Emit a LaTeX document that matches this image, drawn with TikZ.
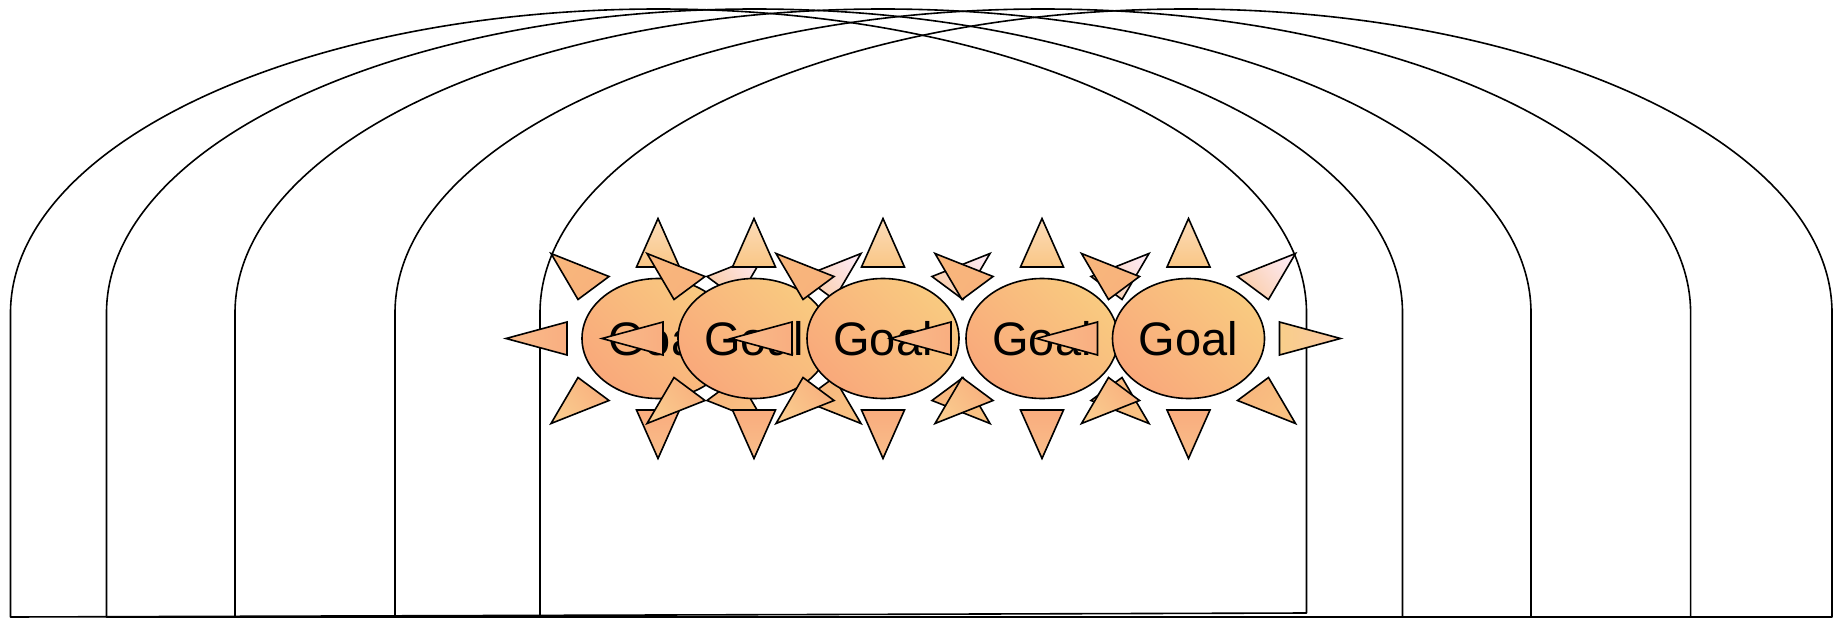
\documentclass[tikz,border=0pt]{standalone}
\usepackage{fontspec}
\setmainfont{Liberation Sans}
\usetikzlibrary{shapes.geometric}

% fill colours of the goal bursts
\definecolor{goalhi}{HTML}{F9CA80}
\definecolor{goallo}{HTML}{F9A97B}
\definecolor{rayNtip}{HTML}{FCDCBA}
\definecolor{rayNbase}{HTML}{F9C685}
\definecolor{rayNEtip}{HTML}{FDE8F0}
\definecolor{rayNEbase}{HTML}{FACDA8}
\definecolor{rayEtip}{HTML}{FAC7A2}
\definecolor{rayEbase}{HTML}{F9CE8A}
\definecolor{raySEtip}{HTML}{F9C283}
\definecolor{raySEbase}{HTML}{F8B67E}
\definecolor{raySTip}{HTML}{F9BE8A}
\definecolor{raySbase}{HTML}{F9AC7E}
\definecolor{raySWtip}{HTML}{FACB8E}
\definecolor{raySWbase}{HTML}{F8B07E}
\definecolor{rayWtip}{HTML}{F9BC8C}
\definecolor{rayWbase}{HTML}{F9AE80}
\definecolor{rayNWtip}{HTML}{F8B67C}
\definecolor{rayNWbase}{HTML}{F8B27C}

\tikzset{
  x=1pt, y=-1pt,
  outline/.style={draw=black, line width=1.6pt, line join=miter},
  arch/.style={outline, line join=round},
  goal/.style={outline, ellipse, minimum width=152pt, minimum height=120pt,
    inner sep=0pt, top color=goalhi, bottom color=goallo, shading angle=-45,
    font=\fontsize{47pt}{56pt}\selectfont},
  ray/.style n args={3}{outline, top color=#1, bottom color=#2, shading angle=#3},
  sun/.pic={
    % eight rays around the goal ellipse
    \path[ray={rayNtip}{rayNbase}{0}]      (-21.5,-71.5) -- (21.5,-71.5) -- (0,-120) -- cycle;
    \path[ray={rayNEtip}{rayNEbase}{-52}]  (49,-62) -- (80,-39) -- (107,-85) -- cycle;
    \path[ray={rayEtip}{rayEbase}{-90}]    (91,-16.5) -- (91,16.5) -- (152,0) -- cycle;
    \path[ray={raySEtip}{raySEbase}{-128}] (49,62) -- (80,39) -- (107,85) -- cycle;
    \path[ray={raySTip}{raySbase}{180}]    (-21.5,71.5) -- (21.5,71.5) -- (0,120) -- cycle;
    \path[ray={raySWtip}{raySWbase}{128}]  (-49,62) -- (-80,39) -- (-107,85) -- cycle;
    \path[ray={rayWtip}{rayWbase}{90}]     (-91,-16.5) -- (-91,16.5) -- (-152,0) -- cycle;
    \path[ray={rayNWtip}{rayNWbase}{52}]   (-49,-62) -- (-80,-39) -- (-107,-85) -- cycle;
    \node[goal] (-g) at (0,0) {Goal};
  },
}

\begin{document}
\begin{tikzpicture}
\useasboundingbox (0,0) rectangle (1833,618);

% five open arches standing on the bottom edge
\draw[arch] (10.5,617) -- (10.5,313)
  arc[start angle=180, end angle=0, x radius=648pt, y radius=304pt] -- (1306.5,613) -- cycle;
\draw[arch] (106.5,617) -- (106.5,313)
  arc[start angle=180, end angle=0, x radius=648pt, y radius=304pt] -- (1402.5,617) -- cycle;
\draw[arch] (235,617) -- (235,313)
  arc[start angle=180, end angle=0, x radius=648pt, y radius=304pt] -- (1531,617) -- cycle;
\draw[arch] (395,617) -- (395,313)
  arc[start angle=180, end angle=0, x radius=647.8pt, y radius=304pt] -- (1690.6,617) -- cycle;
\draw[arch] (540,617) -- (540,313)
  arc[start angle=180, end angle=0, x radius=646pt, y radius=304pt] -- (1832,617) -- cycle;

% the goal bursts, left to right
\pic (s1) at (658,338.5) {sun};
\pic (s2) at (754,338.5) {sun};
\pic (s3) at (883,338.5) {sun};
\pic (s4) at (1042,338.5) {sun};
\pic (s5) at (1188.5,338.5) {sun};
\end{tikzpicture}
\end{document}
